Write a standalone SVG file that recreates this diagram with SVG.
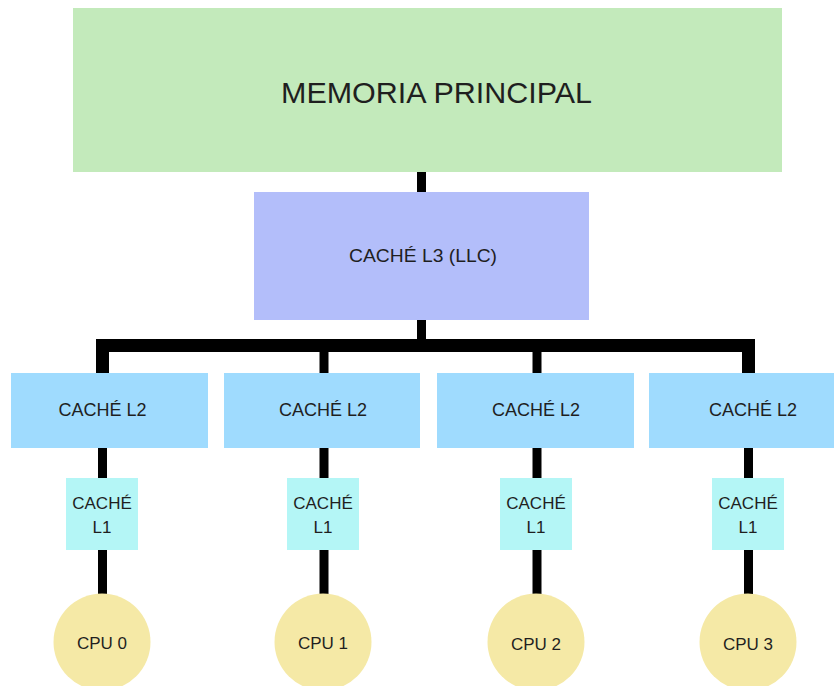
<svg xmlns="http://www.w3.org/2000/svg" width="834" height="686" viewBox="0 0 834 686">
  <style>
    text { font-family: "Liberation Sans", Arial, sans-serif; fill: #1f1f1f; text-anchor: middle; dominant-baseline: central; }
    .mem { fill: #c3eabb; }
    .l3 { fill: #b3befa; }
    .l2 { fill: #9fdbfe; }
    .l1 { fill: #b4f6f6; }
    .cpu { fill: #f5e9a6; }
    .wire { stroke: #000; stroke-width: 9; fill: none; }
    .bus { stroke: #000; stroke-width: 13; fill: none; stroke-linejoin: miter; }
    .lbl { font-size: 17px; }
    .l2t { font-size: 18px; }
  </style>
  <rect width="834" height="686" fill="#ffffff"/>

  <!-- connectors -->
  <g id="connectors">
    <line class="wire" x1="421.5" y1="171" x2="421.5" y2="193"/>
    <line class="wire" x1="421.5" y1="319" x2="421.5" y2="340"/>
    <path class="bus" d="M102.5 374 V345.5 H748.5 V374"/>
    <line class="wire" x1="324" y1="345" x2="324" y2="374"/>
    <line class="wire" x1="537" y1="345" x2="537" y2="374"/>
    <line class="wire" x1="102.5" y1="447" x2="102.5" y2="479"/>
    <line class="wire" x1="324" y1="447" x2="324" y2="479"/>
    <line class="wire" x1="537" y1="447" x2="537" y2="479"/>
    <line class="wire" x1="748.5" y1="447" x2="748.5" y2="479"/>
    <line class="wire" x1="102.5" y1="549" x2="102.5" y2="596"/>
    <line class="wire" x1="324" y1="549" x2="324" y2="596"/>
    <line class="wire" x1="537" y1="549" x2="537" y2="596"/>
    <line class="wire" x1="748.5" y1="549" x2="748.5" y2="596"/>
  </g>

  <g id="memoria">
    <rect class="mem" x="73" y="8" width="709" height="164"/>
    <text x="436.5" y="92" font-size="30" textLength="311" lengthAdjust="spacingAndGlyphs">MEMORIA PRINCIPAL</text>
  </g>

  <g id="l3">
    <rect class="l3" x="254" y="192" width="335" height="128"/>
    <text x="423" y="256" font-size="18" textLength="148" lengthAdjust="spacingAndGlyphs">CACHÉ L3 (LLC)</text>
  </g>

  <g id="l2-0">
    <rect class="l2" x="11" y="373" width="197" height="75"/>
    <text class="l2t" x="102.5" y="410">CACHÉ L2</text>
  </g>
  <g id="l2-1">
    <rect class="l2" x="224" y="373" width="196" height="75"/>
    <text class="l2t" x="323" y="410">CACHÉ L2</text>
  </g>
  <g id="l2-2">
    <rect class="l2" x="437" y="373" width="197" height="75"/>
    <text class="l2t" x="536" y="410">CACHÉ L2</text>
  </g>
  <g id="l2-3">
    <rect class="l2" x="649" y="373" width="185" height="75"/>
    <text class="l2t" x="753" y="410">CACHÉ L2</text>
  </g>

  <g id="l1-0">
    <rect class="l1" x="66" y="478" width="72" height="72"/>
    <text class="lbl" x="102" y="503">CACHÉ</text>
    <text class="lbl" x="102" y="527">L1</text>
  </g>
  <g id="l1-1">
    <rect class="l1" x="287" y="478" width="72" height="72"/>
    <text class="lbl" x="323" y="503">CACHÉ</text>
    <text class="lbl" x="323" y="527">L1</text>
  </g>
  <g id="l1-2">
    <rect class="l1" x="500" y="478" width="72" height="72"/>
    <text class="lbl" x="536" y="503">CACHÉ</text>
    <text class="lbl" x="536" y="527">L1</text>
  </g>
  <g id="l1-3">
    <rect class="l1" x="712" y="478" width="72" height="72"/>
    <text class="lbl" x="748" y="503">CACHÉ</text>
    <text class="lbl" x="748" y="527">L1</text>
  </g>

  <g id="cpu-0">
    <circle class="cpu" cx="102" cy="642" r="48.5"/>
    <text class="lbl" x="102" y="643" font-size="16.5">CPU 0</text>
  </g>
  <g id="cpu-1">
    <circle class="cpu" cx="323" cy="642" r="48.5"/>
    <text class="lbl" x="323" y="643" font-size="16.5">CPU 1</text>
  </g>
  <g id="cpu-2">
    <circle class="cpu" cx="536" cy="642" r="48.5"/>
    <text class="lbl" x="536" y="644" font-size="16.5">CPU 2</text>
  </g>
  <g id="cpu-3">
    <circle class="cpu" cx="748" cy="642" r="48.5"/>
    <text class="lbl" x="748" y="644" font-size="16.5">CPU 3</text>
  </g>
</svg>
